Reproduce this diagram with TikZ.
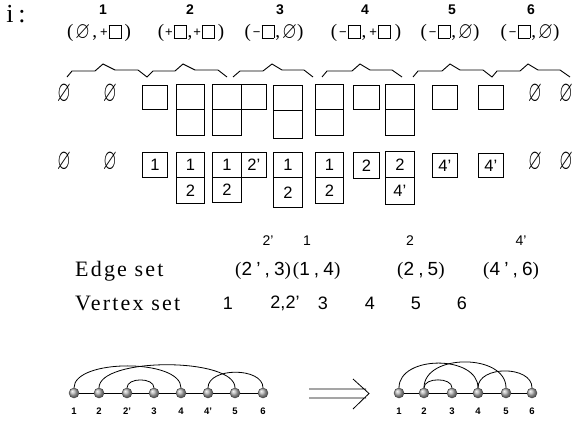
\documentclass[tikz,border=0pt]{standalone}
\usepackage{amssymb}
\usepackage{graphicx}
\usepackage{fontspec}
\setmainfont{Liberation Serif}
\setsansfont{Liberation Sans}
\newfontfamily\spacedrm[LetterSpace=10]{Liberation Serif}
\newfontfamily\spacedsf[LetterSpace=22]{Liberation Sans}

% symbols used in the pair labels
\newcommand\pairfont{\fontsize{19}{19}\selectfont}
\newcommand\sqmark{\raisebox{-0.5pt}{\setlength{\fboxsep}{0pt}\setlength{\fboxrule}{0.7pt}\fbox{\rule{0pt}{12.5pt}\rule{11.5pt}{0pt}}}}
\newcommand\pl{\raisebox{1.5pt}{\sffamily\fontsize{13}{13}\selectfont +}}
\newcommand\mn{\raisebox{1.5pt}{\sffamily\fontsize{13}{13}\selectfont −}}
\newcommand\eset{\raisebox{-1pt}{\scalebox{1}[1.25]{$\varnothing$}}}
\newcommand\bigeset{\scalebox{0.8}[1.35]{\fontsize{22}{22}\selectfont$\varnothing$}}

\begin{document}
\begin{tikzpicture}[x=1pt,y=-1pt,
  cell/.style={draw, line width=0.8pt, inner sep=0pt, anchor=north west,
    font=\sffamily\fontsize{16.5}{16.5}\selectfont},
  nullset/.style={inner sep=0pt},
  pair/.style={inner sep=0pt, font=\pairfont},
  num/.style={inner sep=0pt, font=\sffamily\bfseries\fontsize{14}{14}\selectfont},
  over/.style={inner sep=0pt, font=\sffamily\fontsize{14}{14}\selectfont},
  vnum/.style={inner sep=0pt, font=\sffamily\fontsize{18}{18}\selectfont},
  setname/.style={inner sep=0pt, anchor=west, font=\spacedrm\fontsize{22}{22}\selectfont},
  edgegrp/.style={inner sep=0pt, anchor=west, font=\spacedsf\fontsize{19}{19}\selectfont},
  vtx/.style={circle, inner sep=0pt, minimum size=10pt, draw=black!75,
    line width=0.4pt, ball color=gray!60},
  vlab/.style={inner sep=0pt, font=\sffamily\bfseries\fontsize{9.5}{9.5}\selectfont},
  link/.style={line width=0.8pt},
  brace/.style={line width=0.9pt},
]
\useasboundingbox (0,0) rectangle (576,423);

% index label and column numbers
\node[inner sep=0pt, font=\fontsize{26}{26}\selectfont] (idx) at (16,14) {i\hspace{5pt}:};
\node[num] (c1) at (103,10) {1};
\node[num] (c2) at (190,10) {2};
\node[num] (c3) at (280,10) {3};
\node[num] (c4) at (365,10) {4};
\node[num] (c5) at (452,10) {5};
\node[num] (c6) at (531,10) {6};

% pairs of operations
\node[pair] (p1) at (99,33) {(\hspace{2pt}\eset\hspace{2pt},\hspace{3pt}\pl\hspace{1pt}\sqmark\hspace{3pt})};
\node[pair] (p2) at (191,33) {(\hspace{1pt}\pl\hspace{1pt}\sqmark\hspace{1pt},\hspace{1pt}\pl\hspace{1pt}\sqmark\hspace{3pt})};
\node[pair] (p3) at (274,33) {(\hspace{2pt}\mn\hspace{1pt}\sqmark\hspace{1pt},\hspace{2pt}\eset)};
\node[pair] (p4) at (366,33) {(\hspace{2pt}\mn\hspace{1pt}\sqmark\hspace{1pt},\hspace{3pt}\pl\hspace{1pt}\sqmark\hspace{4pt})};
\node[pair] (p5) at (450,33) {(\hspace{2pt}\mn\hspace{1pt}\sqmark\hspace{1pt},\hspace{2pt}\eset)};
\node[pair] (p6) at (530,33) {(\hspace{2pt}\mn\hspace{1pt}\sqmark\hspace{1pt},\hspace{2pt}\eset)};

% zigzag braces grouping the columns
\draw[brace] (67,77)--(72,71)--(95,71)--(103,64)--(115,70)--(138,70)--(147,77)
  --(153,71)--(175,71)--(183,64)--(195,70)--(218,70)--(227,77);
\draw[brace] (233,77)--(240,71)--(263,71)--(272,64)--(282,70)--(304,70)--(313,77);
\draw[brace] (322,77)--(327,71)--(352,71)--(360,64)--(370,70)--(392,70)--(402,77);
\draw[brace] (413,77)--(418,71)--(442,71)--(450,64)--(460,70)--(483,70)--(492,77)
  --(497,71)--(520,71)--(528,64)--(538,70)--(560,70)--(570,77);

% shapes of the tableaux
\node[nullset] (s1) at (64,94) {\bigeset};
\node[nullset] (s2) at (110,94) {\bigeset};
\node[nullset] (s3) at (535,94) {\bigeset};
\node[nullset] (s4) at (566,94) {\bigeset};
\node[cell, minimum width=25pt, minimum height=24pt] (t1a) at (142,85) {};
\node[cell, minimum width=28pt, minimum height=25pt] (t2a) at (176,84) {};
\node[cell, minimum width=28pt, minimum height=26pt] (t2b) at (176,109) {};
\node[cell, minimum width=29pt, minimum height=25pt] (t3a) at (212,84) {};
\node[cell, minimum width=25pt, minimum height=25pt] (t3b) at (241,84) {};
\node[cell, minimum width=29pt, minimum height=26pt] (t3c) at (212,109) {};
\node[cell, minimum width=29pt, minimum height=25pt] (t4a) at (273,85) {};
\node[cell, minimum width=29pt, minimum height=28pt] (t4b) at (273,110) {};
\node[cell, minimum width=28pt, minimum height=25pt] (t5a) at (315,84) {};
\node[cell, minimum width=28pt, minimum height=26pt] (t5b) at (315,109) {};
\node[cell, minimum width=26pt, minimum height=24pt] (t6a) at (353,85) {};
\node[cell, minimum width=29pt, minimum height=25pt] (t7a) at (385,84) {};
\node[cell, minimum width=29pt, minimum height=26pt] (t7b) at (385,109) {};
\node[cell, minimum width=25pt, minimum height=24pt] (t8a) at (432,85) {};
\node[cell, minimum width=25pt, minimum height=24pt] (t9a) at (478,85) {};

% filled tableaux
\node[nullset] (n1) at (64,162) {\bigeset};
\node[nullset] (n2) at (110,162) {\bigeset};
\node[nullset] (n3) at (535,162) {\bigeset};
\node[nullset] (n4) at (566,162) {\bigeset};
\node[cell, minimum width=25pt, minimum height=25pt] (f1a) at (142,152) {1};
\node[cell, minimum width=28pt, minimum height=25pt] (f2a) at (176,152) {1};
\node[cell, minimum width=28pt, minimum height=26pt] (f2b) at (176,177) {2};
\node[cell, minimum width=29pt, minimum height=25pt] (f3a) at (212,152) {1};
\node[cell, minimum width=25pt, minimum height=25pt] (f3b) at (241,152) {2’};
\node[cell, minimum width=29pt, minimum height=25pt] (f3c) at (212,177) {2};
\node[cell, minimum width=29pt, minimum height=25pt] (f4a) at (273,152) {1};
\node[cell, minimum width=29pt, minimum height=30pt] (f4b) at (273,177) {2};
\node[cell, minimum width=28pt, minimum height=25pt] (f5a) at (315,152) {1};
\node[cell, minimum width=28pt, minimum height=26pt] (f5b) at (315,177) {2};
\node[cell, minimum width=26pt, minimum height=26pt] (f6a) at (353,152) {2};
\node[cell, minimum width=29pt, minimum height=26pt] (f7a) at (385,151) {2};
\node[cell, minimum width=29pt, minimum height=27pt] (f7b) at (385,177) {4’};
\node[cell, minimum width=25pt, minimum height=24pt] (f8a) at (432,153) {4’};
\node[cell, minimum width=25pt, minimum height=24pt] (f9a) at (478,153) {4’};

% edge set and vertex set
\node[over] (u1) at (268,241) {2’};
\node[over] (u2) at (307,241) {1};
\node[over] (u3) at (410,241) {2};
\node[over] (u4) at (521,241) {4’};
\node[setname] (edgeset) at (75,271) {Edge set};
\node[edgegrp] (e1) at (235,271) {{\spacedrm(}2’,3{\spacedrm)}{\spacedrm(}1,4{\spacedrm)}};
\node[edgegrp] (e2) at (397,271) {{\spacedrm(}2,5{\spacedrm)}};
\node[edgegrp] (e3) at (483,271) {{\spacedrm(}4’,6{\spacedrm)}};
\node[setname] (vertexset) at (75,303) {Vertex set};
\node[vnum] (v1) at (228,303) {1};
\node[vnum] (v2) at (285,303) {2,2’};
\node[vnum] (v3) at (323,303) {3};
\node[vnum] (v4) at (370,303) {4};
\node[vnum] (v5) at (416,303) {5};
\node[vnum] (v6) at (462,303) {6};

% graph before merging
\foreach \n/\x/\t in {g1/74/1, g2/99/2, g2p/127/2’, g3/154/3, g4/181/4, g4p/208/4’, g5/235/5, g6/263/6}{
  \node[vtx] (\n) at (\x,393) {};
  \node[vlab] (\n-lab) at (\x,411) {\t};
}
\draw[link] (g1) -- (g2) -- (g2p) -- (g3) -- (g4) -- (g4p) -- (g5) -- (g6);
\draw[link] (g1) to[out=90, in=90, looseness=0.70] (g4);
\draw[link] (g2) to[out=90, in=90, looseness=0.58] (g5);
\draw[link] (g2p) to[out=90, in=90, looseness=1.0] (g3);
\draw[link] (g4p) to[out=90, in=90, looseness=0.97] (g6);

% implication arrow
\draw[line width=0.8pt] (309,389) -- (366,389) (309,398) -- (366,398)
  (353,379) -- (369,393.5) -- (353,409);

% graph after merging
\foreach \n/\x/\t in {h1/399/1, h2/424/2, h3/452/3, h4/478/4, h5/506/5, h6/532/6}{
  \node[vtx] (\n) at (\x,393) {};
  \node[vlab] (\n-lab) at (\x,411) {\t};
}
\draw[link] (h1) -- (h2) -- (h3) -- (h4) -- (h5) -- (h6);
\draw[link] (h1) to[out=90, in=90, looseness=1.07] (h4);
\draw[link] (h2) to[out=90, in=90, looseness=1.08] (h5);
\draw[link] (h2) to[out=90, in=90, looseness=0.97] (h3);
\draw[link] (h4) to[out=90, in=90, looseness=1.07] (h6);
\end{tikzpicture}
\end{document}
